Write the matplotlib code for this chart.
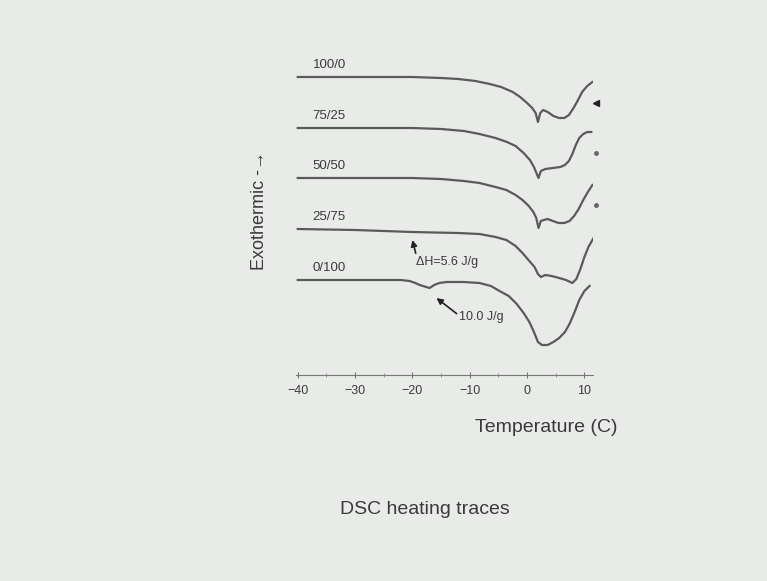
import numpy as np
import matplotlib
matplotlib.use("Agg")
import matplotlib.pyplot as plt

plt.rcParams['font.family'] = ['Liberation Sans', 'DejaVu Sans']

# DSC heating traces, heat flow in arbitrary units (offset per trace)
labels = ["100/0", "75/25", "50/50", "25/75", "0/100"]
offsets = [298, 247, 197, 146, 95]

t_100 = [-40, -20, -15, -12, -9, -6.5, -4.5, -2.5, -1.2, 0.0, 0.9, 1.5, 1.9, 2.3, 2.8, 3.6,
         4.6, 5.6, 6.5, 7.3, 8.0, 8.8, 9.6, 10.5, 11.4]
h_100 = [0, 0, -1, -2, -4, -7, -10, -15, -20, -26, -31, -36, -45, -36, -33, -35,
         -39, -41, -41, -38, -32, -24, -15, -9, -5]

t_75 = [-40, -20, -15, -11, -8.3, -5.5, -3.5, -2, -0.6, 0.5, 1.2, 1.7, 2.0, 2.4, 3.2, 4.5,
        5.8, 6.6, 7.3, 7.9, 8.5, 9.1, 9.8, 10.5, 11.2]
h_75 = [0, 0, -1, -3, -6, -10, -14, -18, -25, -32, -39, -46, -50, -43, -41, -40,
        -39, -37, -33, -26, -17, -10, -6, -4, -4]

t_50 = [-40, -20, -15, -11, -8.3, -5.5, -3.6, -2, -0.8, 0.3, 1.1, 1.6, 2.0, 2.4, 2.9, 3.6,
        4.5, 5.5, 6.5, 7.4, 8.2, 9.0, 9.8, 10.6, 11.4]
h_50 = [0, 0, -1, -3, -5, -9, -12, -17, -22, -28, -34, -40, -50, -43, -42, -41,
        -43, -45, -45, -43, -38, -31, -22, -14, -7]

t_25 = [-40, -30, -20, -12, -8.3, -5.5, -3.6, -2, -0.8, 0.4, 1.3, 1.9, 2.4, 3.2, 4.3, 5.6,
        6.8, 7.9, 8.6, 9.3, 10.0, 10.7, 11.7]
h_25 = [0, -1, -3, -4, -5, -8, -11, -17, -24, -32, -38, -45, -48, -46, -47, -49,
        -51, -54, -50, -40, -28, -18, -8]

t_0 = [-40, -22, -20.5, -19.5, -18.7, -17.6, -17.0, -16.2, -15.3, -14.0, -11, -8.3, -6.3,
       -4.8, -3.2, -1.8, -0.6, 0.4, 1.2, 1.9, 2.6, 3.6, 4.6, 5.6, 6.6, 7.4, 8.3, 9.1, 10.0, 10.9]
h_0 = [0, 0, -1, -3, -5, -7, -8, -5, -3, -2, -2, -3, -6,
       -11, -16, -24, -33, -42, -52, -62, -65, -65, -62, -58, -52, -44, -32, -20, -11, -6]

temps = [t_100, t_75, t_50, t_25, t_0]
flows = [h_100, h_75, h_50, h_25, h_0]

bg = '#e9ebe9'
line_c = '#5a5a5a'
text_c = '#3a3a3a'

fig = plt.figure(figsize=(7.67, 5.81), dpi=100, facecolor=bg)
ax = fig.add_axes([296/767, 1-375/581, (593-296)/767, (375-50)/581])
ax.set_facecolor(bg)

for t, h, off in zip(temps, flows, offsets):
    ax.plot(t, np.array(h) + off, color=line_c, lw=1.6, solid_joinstyle='round')

for lab, off in zip(labels, offsets):
    ax.text(-37.4, off + 12, lab, fontsize=9.5, color=text_c, ha='left', va='center')

# small marks at right end of traces
ax.plot([12.0], [offsets[0] - 26], marker='<', ms=5, color='#222222', clip_on=False)
ax.plot([12.0, 12.0], [offsets[1] - 25, offsets[2] - 27], 'o', ms=2.5, color='#666666', clip_on=False)

# annotations
ax.annotate("\u0394H=5.6 J/g", xy=(-20.0, 135), xytext=(-19.3, 113), fontsize=9,
            color=text_c, ha='left', va='center',
            arrowprops=dict(arrowstyle='-|>', color='#222222', lw=1.2, shrinkA=0, shrinkB=0,
                            mutation_scale=9, relpos=(0, 1)))
ax.annotate("10.0 J/g", xy=(-15.8, 77), xytext=(-11.8, 58), fontsize=9,
            color=text_c, ha='left', va='center',
            arrowprops=dict(arrowstyle='-|>', color='#222222', lw=1.2, shrinkA=0, shrinkB=0,
                            mutation_scale=9, relpos=(0, 0.6)))

ax.set_xlim(-40.3, 11.5)
ax.set_ylim(0, 325)
for s in ['top', 'right', 'left']:
    ax.spines[s].set_visible(False)
ax.spines['bottom'].set_color('#777777')
ax.spines['bottom'].set_linewidth(0.8)
ax.set_yticks([])
ax.set_xticks([-40, -30, -20, -10, 0, 10])
ax.set_xticks(np.arange(-35, 10, 5), minor=True)
ax.tick_params(axis='x', which='major', direction='inout', length=4, color='#777777',
               labelsize=9, labelcolor=text_c, pad=5)
ax.tick_params(axis='x', which='minor', direction='inout', length=2.5, color='#888888')

fig.text(260/767, 1-210/581, "Exothermic -\u2192", rotation=90, fontsize=13,
         color=text_c, ha='center', va='center')
fig.text(546/767, 1-427/581, "Temperature (C)", fontsize=14, color=text_c,
         ha='center', va='center')
fig.text(425/767, 1-510/581, "DSC heating traces", fontsize=14, color=text_c,
         ha='center', va='center')

fig.savefig("out.png", dpi=100, facecolor=bg)
